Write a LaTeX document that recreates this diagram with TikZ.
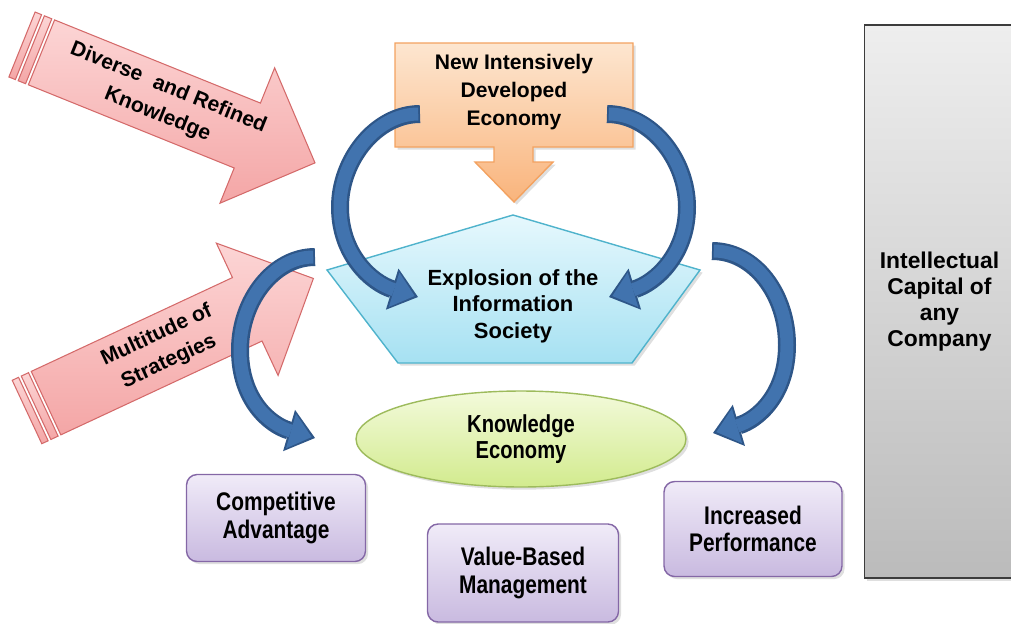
\documentclass[tikz,border=0pt]{standalone}
\usepackage{fontspec}
\setmainfont{Liberation Sans}
\newfontfamily\narrowsf{Liberation Sans}[FakeStretch=0.82]
\usepackage{xcolor}
\usetikzlibrary{arrows.meta,shapes.geometric,shadows}

\definecolor{pinktop}{HTML}{FCD5D5}
\definecolor{pinkbot}{HTML}{F4A6A6}
\definecolor{pinkline}{HTML}{D46A6A}
\definecolor{orangetop}{HTML}{FDE6D0}
\definecolor{orangebot}{HTML}{F9B47C}
\definecolor{orangeline}{HTML}{F3A260}
\definecolor{cyantop}{HTML}{E6F8FD}
\definecolor{cyanbot}{HTML}{A6E1F2}
\definecolor{cyanline}{HTML}{4FB3CC}
\definecolor{greentop}{HTML}{F3FADB}
\definecolor{greenbot}{HTML}{D2EB8E}
\definecolor{greenline}{HTML}{9DBB5C}
\definecolor{purpletop}{HTML}{F0EBF8}
\definecolor{purplebot}{HTML}{C9BAE0}
\definecolor{purpleline}{HTML}{8467A6}
\definecolor{graytop}{HTML}{EEEEEE}
\definecolor{graybot}{HTML}{BBBBBB}
\definecolor{grayline}{HTML}{3C3C3C}
\definecolor{blueedge}{HTML}{2E5688}
\definecolor{bluefill}{HTML}{4173AE}

\tikzset{
  softshadow/.style={drop shadow={opacity=0.25,shadow xshift=1.5pt,shadow yshift=-1.5pt}},
  pinkarrow/.style={draw=pinkline,line width=0.6pt,top color=pinktop,bottom color=pinkbot},
  pinktext/.style={align=center,font=\bfseries\fontsize{12}{16.5}\selectfont},
  boxtext/.style={align=center,font=\bfseries\fontsize{12}{16}\selectfont},
  purplebox/.style={draw=purpleline,line width=0.8pt,rounded corners=6pt,top color=purpletop,
    bottom color=purplebot,align=center,font=\narrowsf\bfseries\fontsize{14.5}{15.5}\selectfont,softshadow},
  blueback/.style={draw=blueedge,line width=0.36cm,-{Triangle[width=0.86cm,length=0.54cm,line width=0pt]}},
  bluefront/.style={draw=bluefill,line width=0.26cm,shorten >=2pt,shorten <=1pt,
    -{Triangle[width=0.72cm,length=0.43cm,line width=0pt]}}
}

\begin{document}
\begin{tikzpicture}[x=0.02cm,y=-0.02cm]
\useasboundingbox (0,0) rectangle (1011,623);

\begin{scope}[shift={(22,44.5)},rotate=-22]
\draw [pinkarrow] (0,-35) rectangle (7,35);
\draw [pinkarrow] (10,-35) rectangle (18,35);
\draw [pinkarrow] (21,-35) -- (243,-35) -- (243,-73) -- (316,0) -- (243,73) -- (243,35) -- (21,35) -- cycle;
\node [pinktext,rotate=-22] (4) at (152,0) {Diverse\hspace{0.6em}and Refined\\Knowledge};
\end{scope}

\begin{scope}[shift={(27,412)},rotate=25]
\draw [pinkarrow] (0,-35) rectangle (7,35);
\draw [pinkarrow] (10,-35) rectangle (18,35);
\draw [pinkarrow] (21,-35) -- (243,-35) -- (243,-73) -- (316,0) -- (243,73) -- (243,35) -- (21,35) -- cycle;
\node [pinktext,rotate=25] (5) at (150,0) {Multitude of\\Strategies};
\end{scope}

\path [draw=orangeline,line width=0.8pt,top color=orangetop,bottom color=orangebot,softshadow]
  (395,43) -- (633,43) -- (633,147) -- (533,147) -- (533,162) -- (553,162) -- (514,202)
  -- (475,162) -- (494,162) -- (494,147) -- (395,147) -- cycle;
\node [boxtext] (1) at (514,92) {New Intensively\\Developed\\Economy};

\path [draw=cyanline,line width=0.8pt,top color=cyantop,bottom color=cyanbot,softshadow]
  (513,215) -- (700,270) -- (632,363) -- (398,363) -- (327,270) -- cycle;
\node [align=center,font=\bfseries\fontsize{12.5}{15}\selectfont] (2) at (513,306) {Explosion of the\\Information\\Society};

\node [ellipse,draw=greenline,line width=0.8pt,top color=greentop,bottom color=greenbot,softshadow,
  minimum width=6.6cm,minimum height=1.92cm,align=center,
  font=\narrowsf\bfseries\fontsize{14}{14.8}\selectfont] (3) at (521,439) {Knowledge\\Economy};

\node [purplebox,minimum width=3.58cm,minimum height=1.74cm] (6) at (276,518) {Competitive\\Advantage};
\node [purplebox,minimum width=3.82cm,minimum height=1.96cm] (7) at (523,573) {Value-Based\\Management};
\node [purplebox,minimum width=3.56cm,minimum height=1.9cm] (8) at (753,529) {Increased\\Performance};

\node [draw=grayline,line width=0.8pt,top color=graytop,bottom color=graybot,softshadow,
  minimum width=3.0cm,minimum height=11.06cm,align=center,
  font=\bfseries\fontsize{13}{14.8}\selectfont] (9) at (939.5,301.5) {Intellectual\\Capital of\\any\\Company};

\coordinate (s1) at (420,114);
\coordinate (e1) at (418,297);
\coordinate (s2) at (607,114);
\coordinate (e2) at (609,297);
\coordinate (s3) at (315,257);
\coordinate (e3) at (315,438);
\coordinate (s4) at (712,251);
\coordinate (e4) at (713,433);

\foreach \s in {blueback,bluefront} {
\draw [\s] (s1) .. controls (376,114) and (340,160) .. (340,207) .. controls (340,255) and (372,283) .. (e1);
\draw [\s] (s2) .. controls (651,114) and (687,160) .. (687,207) .. controls (687,255) and (655,283) .. (e2);
\draw [\s] (s3) .. controls (274,257) and (240,300) .. (240,350) .. controls (240,400) and (270,425) .. (e3);
\draw [\s] (s4) .. controls (755,251) and (787,295) .. (787,345) .. controls (787,395) and (757,420) .. (e4);
}
\end{tikzpicture}
\end{document}
